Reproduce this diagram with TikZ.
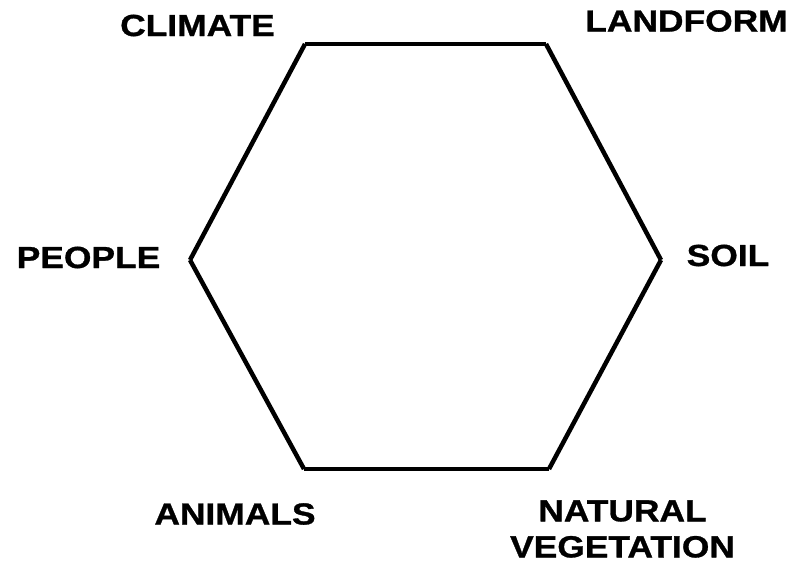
\documentclass[tikz,border=0pt]{standalone}
\usepackage{fontspec}
\setmainfont{Liberation Sans}[FakeStretch=1.16,FakeBold=1]
\begin{document}
\begin{tikzpicture}[x=1pt,y=-1pt,
  lbl/.style={font=\fontsize{30.5}{36}\selectfont\bfseries,align=center,inner sep=0pt},
  edge/.style={line width=4.5pt,line cap=butt}]
\useasboundingbox (0,0) rectangle (797,571);
\coordinate (tl) at (305,44);
\coordinate (tr) at (546,44);
\coordinate (r) at (661,260);
\coordinate (br) at (549,469);
\coordinate (bl) at (304,469);
\coordinate (l) at (190,260);
\draw[edge] (tl) -- (tr);
\draw[edge] (tr) -- (r);
\draw[edge] (r) -- (br);
\draw[edge] (br) -- (bl);
\draw[edge] (bl) -- (l);
\draw[edge] (l) -- (tl);
\node[lbl] (climate) at (197.5,25.5) {CLIMATE};
\node[lbl] (landform) at (686.5,21) {LANDFORM};
\node[lbl] (people) at (88.5,257.5) {PEOPLE};
\node[lbl] (soil) at (728,255.5) {SOIL};
\node[lbl] (animals) at (235,514) {ANIMALS};
\node[lbl] (vegetation) at (622.5,529) {NATURAL\\VEGETATION};
\end{tikzpicture}
\end{document}
